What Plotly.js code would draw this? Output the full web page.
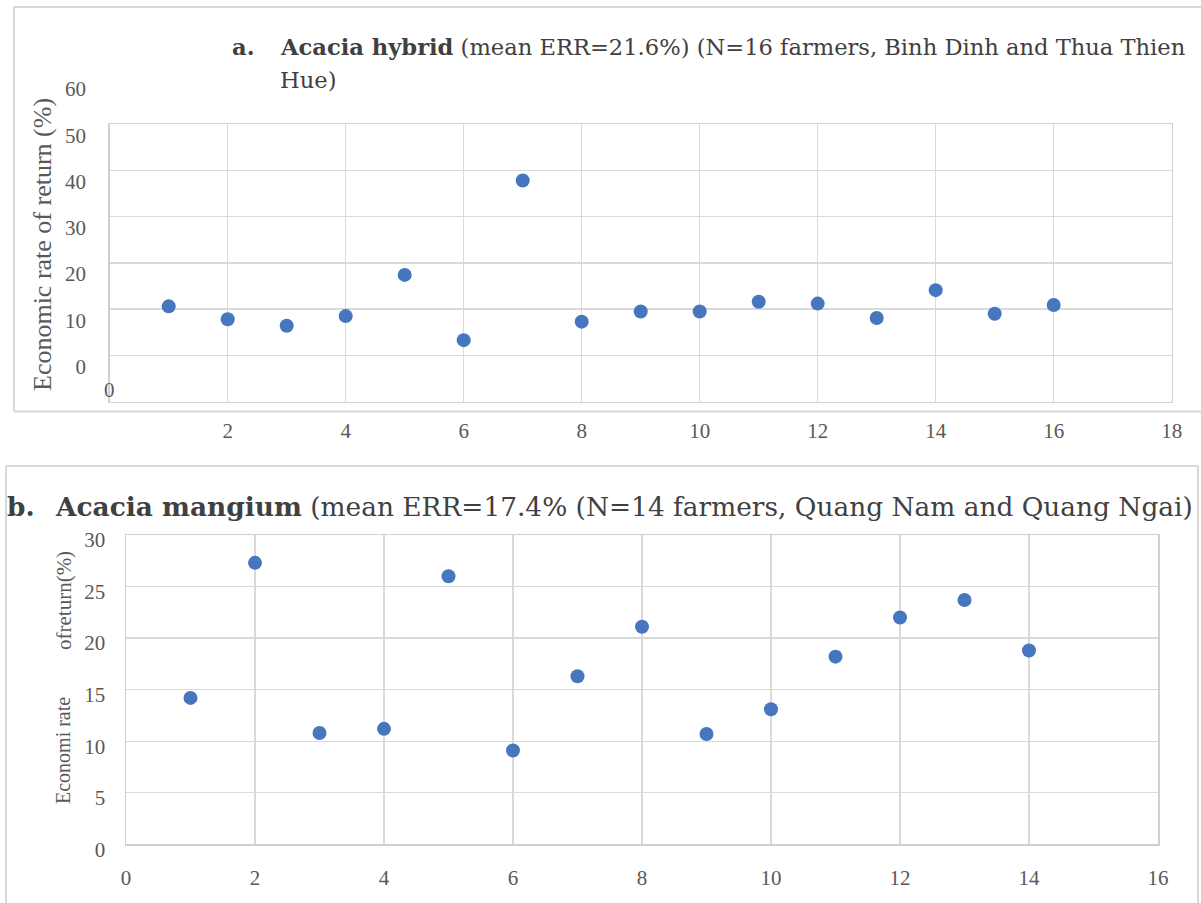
<!DOCTYPE html>
<html>
<head>
<meta charset="utf-8">
<script src="https://cdn.plot.ly/plotly-3.0.1.min.js"></script>
<style>html,body{margin:0;padding:0;background:#fff;overflow:hidden;}#chart{width:1201px;height:903px;}</style>
</head>
<body>
<div id="chart"></div>
<script>
// ---- Data (panel a: Acacia hybrid) ----
const farmersA = [1,2,3,4,5,6,7,8,9,10,11,12,13,14,15,16];
const errA = [20.6,17.8,16.4,18.5,27.4,13.3,47.8,17.3,19.5,19.5,21.6,21.2,18.1,24.1,19.0,20.9];
const yTicksA = [0,10,20,30,40,50,60];
const yTickTextA = ['0','10','20','30','40','50','60'];
const xTicksA = [2,4,6,8,10,12,14,16,18];
const xTickTextA = ['2','4','6','8','10','12','14','16','18'];
const xZeroLabelA = '0';

// ---- Data (panel b: Acacia mangium) ----
const farmersB = [1,2,3,4,5,6,7,8,9,10,11,12,13,14];
const errB = [14.2,27.3,10.8,11.2,26.0,9.1,16.3,21.1,10.7,13.1,18.2,22.0,23.7,18.8];
const yTicksB = [0,5,10,15,20,25,30];
const yTickTextB = ['0','5','10','15','20','25','30'];
const xTicksB = [0,2,4,6,8,10,12,14,16];
const xTickTextB = ['0','2','4','6','8','10','12','14','16'];

// ---- Text ----
const titleALabel = '<b>a.</b>';
const titleAText = '<b>Acacia hybrid</b> (mean ERR=21.6%) (N=16 farmers, Binh Dinh and Thua Thien';
const titleAText2 = 'Hue)';
const titleBLabel = '<b>b.</b>';
const titleBText = '<b>Acacia mangium</b> (mean ERR=17.4% (N=14 farmers, Quang Nam and Quang Ngai)';
const yTitleA = 'Economic rate of return (%)';
const yTitleB1 = 'Economi rate';
const yTitleB2 = 'ofreturn(%)';

// ---- Layout helpers (page pixels -> paper) ----
const W = 1201, H = 903;
const px = x => x / W;
const py = y => 1 - y / H;

const tickFont = {family: 'Liberation Serif, Times New Roman, serif', size: 21, color: '#595959'};
const titleFontA = {family: 'DejaVu Serif, serif', size: 22.6, color: '#404040'};
const titleFontB = {family: 'DejaVu Serif, serif', size: 26.4, color: '#404040'};
const gridC = '#d9d9d9';
const markerC = '#4677BE';

const traces = [
  {x: farmersA, y: errA, type: 'scatter', mode: 'markers', xaxis: 'x', yaxis: 'y',
   marker: {color: markerC, size: 14}, cliponaxis: false, hoverinfo: 'x+y'},
  {x: farmersB, y: errB, type: 'scatter', mode: 'markers', xaxis: 'x2', yaxis: 'y2',
   marker: {color: markerC, size: 14}, cliponaxis: false, hoverinfo: 'x+y'}
];

const axisCommon = {
  showgrid: true, gridcolor: gridC, gridwidth: 1.3,
  showline: true, linecolor: '#d0d0d0', linewidth: 1.5, mirror: true,
  zeroline: false, ticks: '', tickfont: tickFont, tickmode: 'array', fixedrange: true
};

function frameLine(x0, y0, x1, y1) {
  return {type: 'line', xref: 'paper', yref: 'paper', x0: px(x0), y0: py(y0), x1: px(x1), y1: py(y1),
          line: {color: gridC, width: 2}, layer: 'below'};
}

const layout = {
  width: W, height: H,
  margin: {l: 0, r: 0, t: 0, b: 0},
  paper_bgcolor: '#ffffff', plot_bgcolor: '#ffffff',
  showlegend: false,
  xaxis: Object.assign({}, axisCommon, {
    domain: [px(109.7), px(1171.7)], range: [0, 18], anchor: 'y',
    tickvals: xTicksA, ticktext: xTickTextA, ticklabelstandoff: 10
  }),
  yaxis: Object.assign({}, axisCommon, {
    domain: [py(401.7), py(124)], range: [0, 60], anchor: 'x',
    tickvals: yTicksA, ticktext: yTickTextA, ticklabelshift: -35, ticklabelstandoff: 18
  }),
  xaxis2: Object.assign({}, axisCommon, {
    domain: [px(126), px(1158)], range: [0, 16], anchor: 'y2',
    tickvals: xTicksB, ticktext: xTickTextB, ticklabelstandoff: 14
  }),
  yaxis2: Object.assign({}, axisCommon, {
    domain: [py(844.3), py(535)], range: [0, 30], anchor: 'x2',
    tickvals: yTicksB, ticktext: yTickTextB, ticklabelshift: 5, ticklabelstandoff: 15
  }),
  shapes: [
    // panel a frame (left, top, bottom; open to the right)
    frameLine(14, 7, 14, 411.5),
    frameLine(14, 7, 1201, 7),
    frameLine(14, 411.5, 1201, 411.5),
    // panel b frame
    frameLine(6, 466, 6, 903),
    frameLine(6, 466, 1198, 466),
    frameLine(1198, 466, 1198, 903)
  ],
  annotations: [
    {text: titleALabel, xref: 'paper', yref: 'paper', x: px(230), y: py(47), xanchor: 'left', yanchor: 'middle', showarrow: false, font: titleFontA},
    {text: titleAText, xref: 'paper', yref: 'paper', x: px(278), y: py(47), xanchor: 'left', yanchor: 'middle', showarrow: false, font: titleFontA},
    {text: titleAText2, xref: 'paper', yref: 'paper', x: px(278), y: py(80), xanchor: 'left', yanchor: 'middle', showarrow: false, font: titleFontA},
    {text: titleBLabel, xref: 'paper', yref: 'paper', x: px(5), y: py(506), xanchor: 'left', yanchor: 'middle', showarrow: false, font: titleFontB},
    {text: titleBText, xref: 'paper', yref: 'paper', x: px(53), y: py(506), xanchor: 'left', yanchor: 'middle', showarrow: false, font: titleFontB},
    {text: yTitleA, xref: 'paper', yref: 'paper', x: px(42), y: py(245), xanchor: 'center', yanchor: 'middle', textangle: -90, showarrow: false,
     font: {family: 'Liberation Serif, serif', size: 26, color: '#595959'}},
    {text: yTitleB1, xref: 'paper', yref: 'paper', x: px(63), y: py(751), xanchor: 'center', yanchor: 'middle', textangle: -90, showarrow: false,
     font: {family: 'Liberation Serif, serif', size: 20, color: '#595959'}},
    {text: yTitleB2, xref: 'paper', yref: 'paper', x: px(64), y: py(601), xanchor: 'center', yanchor: 'middle', textangle: -90, showarrow: false,
     font: {family: 'Liberation Serif, serif', size: 21, color: '#595959'}},
    {text: xZeroLabelA, xref: 'x', yref: 'y', x: 0, y: 0, xanchor: 'center', yanchor: 'bottom', yshift: -2, showarrow: false, font: tickFont}
  ]
};

Plotly.newPlot('chart', traces, layout, {staticPlot: true, displayModeBar: false});
</script>
</body>
</html>
